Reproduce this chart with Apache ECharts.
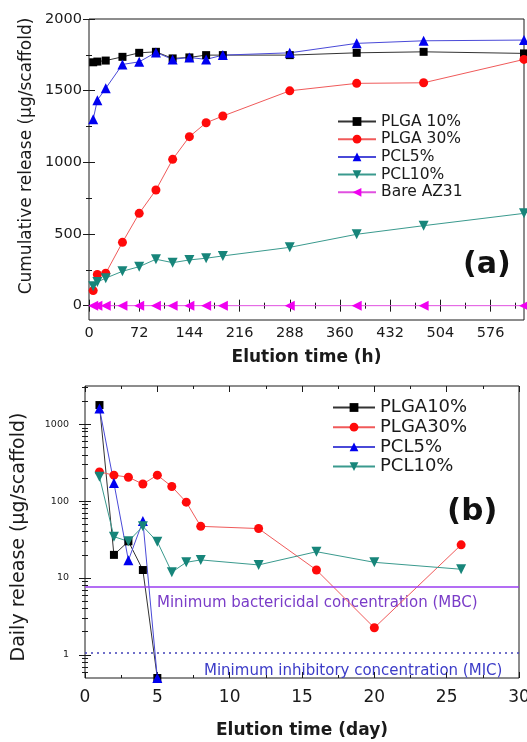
<!DOCTYPE html>
<html>
<head>
<meta charset="utf-8">
<script src="https://cdn.jsdelivr.net/npm/echarts@6/dist/echarts.min.js"></script>
<style>
  html, body { margin: 0; padding: 0; background: #fff; }
  #chart { width: 527px; height: 742px; }
</style>
</head>
<body>
<div id="chart"></div>
<script>
// ---- Panel (a): cumulative release, elution time in hours ----
const hours = [6, 12, 24, 48, 72, 96, 120, 144, 168, 192, 288, 384, 480, 624];
const cumPLGA10 = [1698, 1703, 1710, 1736, 1764, 1771, 1725, 1732, 1748, 1748, 1748, 1764, 1771, 1760];
const cumPLGA30 = [105, 218, 226, 442, 644, 807, 1021, 1179, 1276, 1323, 1499, 1551, 1555, 1718];
const cumPCL5   = [1300, 1434, 1516, 1683, 1701, 1767, 1718, 1732, 1718, 1748, 1764, 1830, 1848, 1853];
const cumPCL10  = [135, 165, 192, 240, 272, 324, 300, 319, 331, 347, 407, 498, 558, 644];
const cumBare   = [0, 0, 0, 0, 0, 0, 0, 0, 0, 0, 0, 0, 0, 0];

// ---- Panel (b): daily release, elution time in days ----
const days = [1, 2, 3, 4, 5, 6, 7, 8, 12, 16, 20, 26];
const dailyPLGA10 = [1780, 20, 30, 12.7, 0.5];
const dailyPLGA30 = [240, 218, 205, 167, 218, 155, 97, 47, 44, 12.7, 2.25, 27];
const dailyPCL5   = [1610, 172, 17, 55, 0.5];
const dailyPCL10  = [208, 34.5, 30, 47, 29.7, 11.9, 16, 17.2, 14.8, 22, 16, 13];
const mbcLevel = 7.7;
const micLevel = 1.07;

// ---- Tick positions ----
const hourMajor = [0, 72, 144, 216, 288, 360, 432, 504, 576];
const hourMinor = [36, 108, 180, 252, 324, 396, 468, 540, 612];
const cumMajor = [0, 500, 1000, 1500, 2000];
const cumMinor = [250, 750, 1250, 1750];
const dayMajor = [0, 5, 10, 15, 20, 25, 30];
const dayMinor = [2.5, 7.5, 12.5, 17.5, 22.5, 27.5];
const dailyMajor = [1, 10, 100, 1000];
const dailyMinor = [0.6, 0.7, 0.8, 0.9, 2, 3, 4, 5, 6, 7, 8, 9,
  20, 30, 40, 50, 60, 70, 80, 90, 200, 300, 400, 500, 600, 700, 800, 900, 2000, 3000];

const FONT = '"DejaVu Sans", "Liberation Sans", Arial, sans-serif';
const INK = '#1a1a1a';

const C = {
  plga10: '#000000', plga10Line: '#333333',
  plga30: '#ff0a0a', plga30Line: '#f05a5a',
  pcl5: '#0000f0', pcl5Line: '#4a4ad8',
  pcl10: '#17857a', pcl10Line: '#3a9a8e',
  bare: '#f000f0', bareLine: '#e050e0'
};

// One tick-only axis (ticks point into the plot); labels optional
function tickAxis(dim, grid, pos, range, values, len, label) {
  const ax = {
    type: range.type || 'value',
    gridIndex: grid,
    position: pos,
    min: range.min,
    max: range.max,
    axisLine: { show: false },
    splitLine: { show: false },
    axisTick: { show: true, inside: true, length: len, customValues: values,
      lineStyle: { color: INK, width: 1 } },
    axisLabel: { show: false },
    silent: true
  };
  if (range.type === 'log') ax.logBase = 10;
  if (label) {
    ax.axisLabel = Object.assign({
      show: true, customValues: values, color: INK, fontFamily: FONT,
      formatter: v => String(v)
    }, label);
  }
  return ax;
}

const rHour = { min: 0, max: 624 };
const rCum = { min: -100, max: 2000 };
const rDay = { min: 0, max: 30 };
const rDaily = { type: 'log', min: 0.5, max: 3150 };

const xAxes = [
  // grid 0
  Object.assign(tickAxis('x', 0, 'bottom', rHour, hourMajor, 6, { fontSize: 14.5, margin: 6 }), {
    name: 'Elution time (h)', nameLocation: 'middle', nameGap: 29,
    nameTextStyle: { fontFamily: FONT, fontSize: 17, fontWeight: 'bold', color: INK }
  }),
  tickAxis('x', 0, 'bottom', rHour, hourMinor, 3),
  tickAxis('x', 0, 'top', rHour, hourMajor, 6),
  tickAxis('x', 0, 'top', rHour, hourMinor, 3),
  // grid 1
  Object.assign(tickAxis('x', 1, 'bottom', rDay, dayMajor, 6, { fontSize: 17, margin: 11 }), {
    name: 'Elution time (day)', nameLocation: 'middle', nameGap: 44,
    nameTextStyle: { fontFamily: FONT, fontSize: 17, fontWeight: 'bold', color: INK }
  }),
  tickAxis('x', 1, 'bottom', rDay, dayMinor, 3),
  tickAxis('x', 1, 'top', rDay, dayMajor, 6),
  tickAxis('x', 1, 'top', rDay, dayMinor, 3)
];

const yAxes = [
  tickAxis('y', 0, 'left', rCum, cumMajor, 6, { fontSize: 14.5, margin: 7 }),
  tickAxis('y', 0, 'left', rCum, cumMinor, 3),
  tickAxis('y', 0, 'right', rCum, cumMajor, 6),
  tickAxis('y', 0, 'right', rCum, cumMinor, 3),
  tickAxis('y', 1, 'left', rDaily, dailyMajor, 6, { fontSize: 9.5, margin: 16 }),
  tickAxis('y', 1, 'left', rDaily, dailyMinor, 3),
  tickAxis('y', 1, 'right', rDaily, dailyMajor, 6),
  tickAxis('y', 1, 'right', rDaily, dailyMinor, 3)
];

function pairs(xs, ys) {
  return ys.map((y, i) => [xs[i], y]);
}

function lineSeries(name, panel, xs, ys, color, lineColor, symbol, size, rotate) {
  const ax = panel === 0 ? 0 : 4;
  return {
    type: 'line', name: name,
    xAxisIndex: ax, yAxisIndex: ax,
    data: pairs(xs, ys),
    symbol: symbol, symbolSize: size, symbolRotate: rotate || 0,
    showSymbol: true, showAllSymbol: true,
    itemStyle: { color: color, borderWidth: 0 },
    lineStyle: { color: lineColor, width: 1 },
    clip: false, animation: false,
    emphasis: { disabled: true }
  };
}

const series = [
  lineSeries('PLGA 10%', 0, hours, cumPLGA10, C.plga10, C.plga10Line, 'rect', 8),
  lineSeries('PLGA 30%', 0, hours, cumPLGA30, C.plga30, C.plga30Line, 'circle', 9),
  lineSeries('PCL5%', 0, hours, cumPCL5, C.pcl5, C.pcl5Line, 'triangle', 10),
  lineSeries('PCL10%', 0, hours, cumPCL10, C.pcl10, C.pcl10Line, 'triangle', 10, 180),
  lineSeries('Bare AZ31', 0, hours, cumBare, C.bare, C.bareLine, 'triangle', 10, 90),

  lineSeries('PLGA10%', 1, days, dailyPLGA10, C.plga10, C.plga10Line, 'rect', 8),
  lineSeries('PLGA30%', 1, days, dailyPLGA30, C.plga30, C.plga30Line, 'circle', 9),
  lineSeries('PCL5%', 1, days, dailyPCL5, C.pcl5, C.pcl5Line, 'triangle', 10),
  Object.assign(lineSeries('PCL10%', 1, days, dailyPCL10, C.pcl10, C.pcl10Line, 'triangle', 10, 180), {
    markLine: {
      silent: true, symbol: ['none', 'none'], label: { show: false }, animation: false,
      data: [
        { yAxis: mbcLevel, lineStyle: { color: '#9a3cf0', width: 1.5, type: 'solid' } },
        { yAxis: micLevel, lineStyle: { color: '#4040b8', width: 1.5, type: [2, 4] } }
      ]
    }
  })
];

const option = {
  backgroundColor: '#ffffff',
  animation: false,
  grid: [
    { left: 89, top: 19, right: 3, bottom: 422, show: true, borderColor: INK, borderWidth: 1,
      backgroundColor: 'transparent', containLabel: false, outerBoundsMode: 'none' },
    { left: 85, top: 386, right: 8, bottom: 64, show: true, borderColor: INK, borderWidth: 1,
      backgroundColor: 'transparent', containLabel: false, outerBoundsMode: 'none' }
  ],
  xAxis: xAxes,
  yAxis: yAxes,
  legend: [
    {
      data: ['PLGA 10%', 'PLGA 30%', 'PCL5%', 'PCL10%', 'Bare AZ31'],
      orient: 'vertical', left: 337, top: 113.5, padding: 0,
      itemWidth: 38, itemHeight: 11, itemGap: 1.7,
      textStyle: { fontFamily: FONT, fontSize: 15.5, lineHeight: 16, color: INK },
      selectedMode: false
    },
    {
      data: ['PLGA10%', 'PLGA30%', 'PCL5%', 'PCL10%'],
      orient: 'vertical', left: 332, top: 398.5, padding: 0,
      itemWidth: 42, itemHeight: 11, itemGap: 1.7,
      textStyle: { fontFamily: FONT, fontSize: 18, lineHeight: 18, color: INK },
      selectedMode: false
    }
  ],
  graphic: [
    { type: 'text', x: 27, y: 156, rotation: Math.PI / 2, silent: true,
      style: { text: 'Cumulative release (μg/scaffold)', font: '17px ' + FONT, fill: INK,
        align: 'center', verticalAlign: 'middle' } },
    { type: 'text', x: 19, y: 537, rotation: Math.PI / 2, silent: true,
      style: { text: 'Daily release (μg/scaffold)', font: '19px ' + FONT, fill: INK,
        align: 'center', verticalAlign: 'middle' } },
    { type: 'text', x: 463, y: 265, silent: true,
      style: { text: '(a)', font: 'bold 30px ' + FONT, fill: '#111',
        align: 'left', verticalAlign: 'middle' } },
    { type: 'text', x: 447, y: 512, silent: true,
      style: { text: '(b)', font: 'bold 31px ' + FONT, fill: '#111',
        align: 'left', verticalAlign: 'middle' } },
    { type: 'text', x: 157, y: 603, silent: true,
      style: { text: 'Minimum bactericidal concentration (MBC)', font: '15px ' + FONT,
        fill: '#7a3cc8', align: 'left', verticalAlign: 'middle' } },
    { type: 'text', x: 204, y: 671, silent: true,
      style: { text: 'Minimum inhibitory concentration (MIC)', font: '15px ' + FONT,
        fill: '#3c3cc8', align: 'left', verticalAlign: 'middle' } }
  ],
  series: series
};

const chart = echarts.init(document.getElementById('chart'), null, { renderer: 'canvas' });
chart.setOption(option);
</script>
</body>
</html>
